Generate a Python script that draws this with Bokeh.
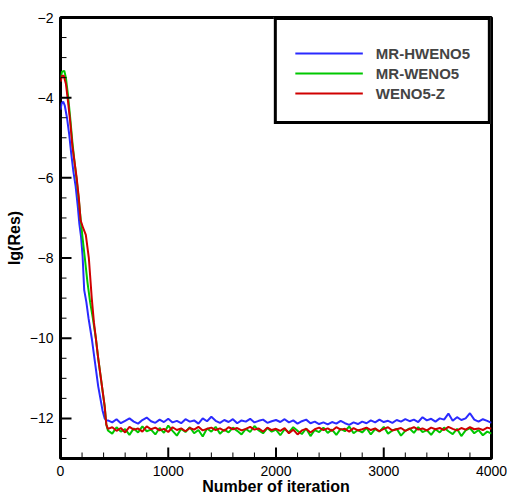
from bokeh.plotting import figure
from bokeh.models import FixedTicker, Range1d, Legend, LegendItem
from bokeh.embed import file_html
from bokeh.resources import INLINE

# ---- data ----
series_names = ["MR-HWENO5", "MR-WENO5", "WENO5-Z"]
series_colors = ["#2a2aff", "#00c800", "#d00000"]

# transient part
hweno_iter = [0, 10, 25, 40, 60, 80, 100, 120, 140, 160, 175, 190, 205, 220, 240, 260, 290, 310, 330, 350, 370, 390, 410, 425]
hweno_res = [-4.3, -4.15, -4.1, -4.2, -4.5, -4.9, -5.4, -5.85, -6.2, -6.7, -7.15, -7.45, -7.95, -8.8, -9.1, -9.5, -10.0, -10.4, -10.8, -11.2, -11.5, -11.8, -12.0, -12.05]

weno_iter = [0, 15, 35, 50, 70, 90, 110, 130, 150, 170, 186, 205, 226, 250, 275, 300, 328, 350, 370, 390, 410, 425]
weno_res = [-3.5, -3.35, -3.33, -3.5, -3.95, -4.5, -5.1, -5.6, -6.05, -6.55, -7.0, -7.5, -8.0, -8.6, -9.1, -9.5, -10.0, -10.5, -10.9, -11.3, -11.7, -12.15]

wenoz_iter = [0, 15, 30, 50, 70, 90, 110, 130, 150, 170, 186, 210, 235, 263, 290, 310, 328, 350, 370, 390, 410, 425]
wenoz_res = [-3.6, -3.45, -3.45, -3.65, -4.1, -4.6, -5.2, -5.6, -6.0, -6.5, -7.05, -7.25, -7.42, -8.0, -9.0, -9.6, -10.0, -10.5, -10.9, -11.3, -11.7, -12.15]

# plateau part, every 40 iterations from 440 to 4000
plateau_iter = list(range(440, 4001, 40))
hweno_plateau = [
    -12.05, -12.10, -12.02, -12.12, -12.06, -12.00, -12.08, -12.13, -12.04, -11.98,
    -12.07, -12.11, -12.03, -12.09, -12.01, -12.10, -12.06, -12.12, -12.02, -12.08,
    -12.05, -12.13, -12.00, -12.07, -11.96, -12.06, -12.11, -12.04, -12.09, -12.02,
    -12.12, -12.05, -12.08, -12.01, -12.10, -12.06, -12.03, -12.11, -12.07, -12.04,
    -12.09, -12.02, -12.10, -12.05, -12.13, -12.07, -12.03, -12.12, -12.08, -12.14,
    -12.10, -12.15, -12.09, -12.13, -12.06, -12.12, -12.16, -12.10, -12.14, -12.08,
    -12.12, -12.05, -12.10, -12.03, -12.09, -12.06, -12.11, -12.04, -12.08, -12.02,
    -12.07, -12.03, -12.09, -11.97, -12.05, -12.01, -12.08, -12.00, -12.03, -11.88,
    -12.06, -11.97, -12.04, -12.00, -11.87, -12.03, -12.08, -12.02, -12.06, -12.11,
]
weno_plateau = [
    -12.30, -12.38, -12.22, -12.33, -12.27, -12.41, -12.25, -12.35, -12.20, -12.32,
    -12.28, -12.40, -12.24, -12.36, -12.18, -12.31, -12.43, -12.26, -12.34, -12.22,
    -12.37, -12.29, -12.45, -12.25, -12.33, -12.21, -12.38, -12.28, -12.35, -12.23,
    -12.31, -12.40, -12.26, -12.34, -12.19, -12.30, -12.37, -12.24, -12.33, -12.28,
    -12.42, -12.27, -12.35, -12.22, -12.31, -12.39, -12.25, -12.44, -12.29, -12.34,
    -12.23, -12.36, -12.28, -12.41, -12.26, -12.32, -12.20, -12.37, -12.29, -12.35,
    -12.24, -12.40, -12.27, -12.33, -12.21, -12.38, -12.30, -12.26, -12.43, -12.31,
    -12.25, -12.36, -12.22, -12.34, -12.29, -12.41, -12.27, -12.35, -12.23, -12.32,
    -12.39, -12.26, -12.44, -12.30, -12.24, -12.37, -12.29, -12.42, -12.33, -12.38,
]
wenoz_plateau = [
    -12.26, -12.22, -12.31, -12.24, -12.35, -12.21, -12.28, -12.25, -12.33, -12.20,
    -12.27, -12.23, -12.30, -12.26, -12.34, -12.22, -12.29, -12.25, -12.32, -12.24,
    -12.28, -12.21, -12.30, -12.26, -12.23, -12.29, -12.25, -12.31, -12.22, -12.27,
    -12.24, -12.30, -12.26, -12.21, -12.28, -12.25, -12.33, -12.23, -12.29, -12.26,
    -12.31, -12.24, -12.37, -12.28, -12.40, -12.30, -12.26, -12.35, -12.27, -12.23,
    -12.29, -12.25, -12.31, -12.22, -12.28, -12.26, -12.33, -12.24, -12.30, -12.27,
    -12.23, -12.29, -12.25, -12.32, -12.26, -12.22, -12.30, -12.27, -12.24, -12.31,
    -12.26, -12.22, -12.28, -12.25, -12.30, -12.23, -12.27, -12.24, -12.29, -12.21,
    -12.26, -12.30, -12.24, -12.28, -12.22, -12.27, -12.25, -12.29, -12.23, -12.26,
]

x_major_ticks = [0, 1000, 2000, 3000, 4000]
x_minor_ticks = [200, 400, 600, 800, 1200, 1400, 1600, 1800, 2200, 2400, 2600, 2800, 3200, 3400, 3600, 3800]
y_major_ticks = [-12, -10, -8, -6, -4, -2]
y_minor_ticks = [-12.5, -11.5, -11, -10.5, -9.5, -9, -8.5, -7.5, -7, -6.5, -5.5, -5, -4.5, -3.5, -3, -2.5]

x_label = "Number of iteration"
y_label = "lg(Res)"

FONT = "Liberation Sans"
X0, X1, Y0, Y1 = 0, 4000, -13, -2

p = figure(width=507, height=497, output_backend="svg", toolbar_location=None,
           x_range=Range1d(X0, X1), y_range=Range1d(Y0, Y1),
           min_border_left=60, min_border_right=16, min_border_top=17, min_border_bottom=38)
p.grid.visible = False
p.background_fill_color = "white"
p.border_fill_color = "white"
p.outline_line_color = "black"
p.outline_line_alpha = 1.0
p.outline_line_width = 3

xs_all = [hweno_iter + plateau_iter, weno_iter + plateau_iter, wenoz_iter + plateau_iter]
ys_all = [hweno_res + hweno_plateau, weno_res + weno_plateau, wenoz_res + wenoz_plateau]

renderers = []
for xs, ys, c in zip(xs_all, ys_all, series_colors):
    r = p.line(xs, ys, line_color=c, line_width=2)
    renderers.append(r)

# inward ticks, drawn as segments from the frame edge (length ~10px major, ~5px minor)
xlen_per_px = (X1 - X0) / 431.0
ylen_per_px = (Y1 - Y0) / 442.0
p.segment(x0=x_major_ticks, x1=x_major_ticks, y0=[Y0] * len(x_major_ticks),
          y1=[Y0 + 11 * ylen_per_px] * len(x_major_ticks), line_color="black", line_width=2)
p.segment(x0=x_minor_ticks, x1=x_minor_ticks, y0=[Y0] * len(x_minor_ticks),
          y1=[Y0 + 6 * ylen_per_px] * len(x_minor_ticks), line_color="black", line_width=1)
p.segment(x0=[X0] * len(y_major_ticks), x1=[X0 + 11 * xlen_per_px] * len(y_major_ticks),
          y0=y_major_ticks, y1=y_major_ticks, line_color="black", line_width=2)
p.segment(x0=[X0] * len(y_minor_ticks), x1=[X0 + 6 * xlen_per_px] * len(y_minor_ticks),
          y0=y_minor_ticks, y1=y_minor_ticks, line_color="black", line_width=1)

# axes (labels only; ticks drawn above)
p.xaxis.ticker = FixedTicker(ticks=x_major_ticks)
p.yaxis.ticker = FixedTicker(ticks=y_major_ticks)
for ax in (p.xaxis[0], p.yaxis[0]):
    ax.axis_line_color = None
    ax.major_tick_line_color = None
    ax.minor_tick_line_color = None
    ax.major_tick_in = 0
    ax.major_tick_out = 0
    ax.minor_tick_in = 0
    ax.minor_tick_out = 0
    ax.major_label_text_font = FONT
    ax.major_label_text_font_size = "14px"
    ax.major_label_text_color = "black"
    ax.axis_label_text_font = FONT
    ax.axis_label_text_font_style = "bold"
    ax.axis_label_text_font_size = "16px"
    ax.axis_label_text_color = "black"

p.xaxis.axis_label = x_label
p.yaxis.axis_label = y_label
p.xaxis.major_label_standoff = 7
p.xaxis.axis_label_standoff = -1
p.yaxis.major_label_standoff = 7
p.yaxis.axis_label_standoff = 4

legend = Legend(items=[LegendItem(label=n, renderers=[r]) for n, r in zip(series_names, renderers)],
                location="top_right")
legend.margin = 0
legend.padding = 18
legend.spacing = 0
legend.title = " "
legend.title_text_font_size = "4px"
legend.title_standoff = 0
legend.label_height = 20
legend.glyph_height = 20
legend.glyph_width = 68
legend.label_standoff = 13
legend.label_text_font = FONT
legend.label_text_font_style = "bold"
legend.label_text_font_size = "15px"
legend.border_line_color = "black"
legend.border_line_alpha = 1.0
legend.border_line_width = 3
legend.background_fill_color = "white"
legend.background_fill_alpha = 1.0
p.add_layout(legend, "center")

open("out.html", "w").write(file_html(p, INLINE))
